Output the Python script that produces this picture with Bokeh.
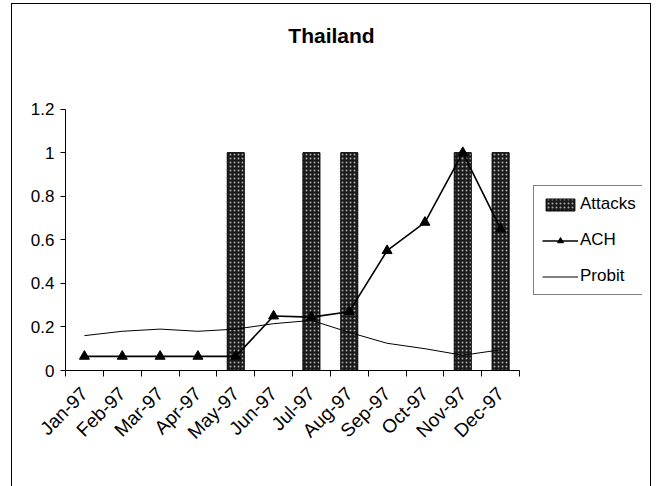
from math import pi

from bokeh.embed import file_html
from bokeh.models import (CustomJSTickFormatter, FixedTicker, Label, Legend, LegendItem,
                          Range1d)
from bokeh.plotting import figure
from bokeh.resources import INLINE

# Monthly series for Thailand, 1997
months = ["Jan-97", "Feb-97", "Mar-97", "Apr-97", "May-97", "Jun-97",
          "Jul-97", "Aug-97", "Sep-97", "Oct-97", "Nov-97", "Dec-97"]
attacks = [0, 0, 0, 0, 1, 0, 1, 1, 0, 0, 1, 1]
ach = [0.065, 0.065, 0.065, 0.065, 0.065, 0.25, 0.245, 0.27, 0.55, 0.68, 1.0, 0.65]
probit = [0.16, 0.18, 0.19, 0.18, 0.19, 0.215, 0.23, 0.175, 0.125, 0.10, 0.07, 0.095]

y_ticks = [0, 0.2, 0.4, 0.6, 0.8, 1.0, 1.2]

FONT = "Liberation Sans"

pos = list(range(len(months)))
bar_x = [i for i, a in zip(pos, attacks) if a > 0]
bar_top = [a for a in attacks if a > 0]

# The drawing area is extended to the right and top so the title and the
# legend can sit inside it; the axes are bounded to the data extent.
x_lo, x_hi = -0.5, len(months) - 0.5
y_lo, y_hi = 0, 1.2
p = figure(width=638, height=482, output_backend="svg", toolbar_location=None,
           x_range=Range1d(x_lo, x_hi + 3.25), y_range=Range1d(y_lo, 1.68),
           min_border_left=53, min_border_right=8, min_border_top=0,
           min_border_bottom=116, margin=(4, 0, 0, 12))
p.styles = {"outline": "1.5px solid black"}
p.background_fill_color = "white"
p.border_fill_color = "white"
p.outline_line_color = None
p.grid.visible = False

# Attack months as patterned bars
bars = p.vbar(x=bar_x, top=bar_top, width=0.45, bottom=0,
              fill_color="#1a1a1a", line_color="black", line_width=1,
              hatch_pattern="dot", hatch_color="#a8a8a8", hatch_scale=4, hatch_weight=1.6)

# Model probabilities drawn over the bars
ach_line = p.line(pos, ach, line_color="black", line_width=1.6)
ach_pts = p.scatter(pos, ach, marker="triangle", size=10, fill_color="black", line_color="black")
probit_line = p.line(pos, probit, line_color="black", line_width=1)

# x axis: labels at month centres, ticks at month boundaries
xa = p.xaxis[0]
xa.bounds = (x_lo, x_hi)
xa.ticker = FixedTicker(ticks=pos, minor_ticks=[i - 0.5 for i in range(len(months) + 1)])
xa.major_label_overrides = {i: m for i, m in zip(pos, months)}
xa.major_label_orientation = pi / 4
xa.major_tick_line_color = None
xa.major_tick_out = 6
xa.major_tick_in = 0
xa.minor_tick_line_color = "black"
xa.minor_tick_out = 6
xa.minor_tick_in = 0
xa.major_label_standoff = 14
xa.axis_line_color = "black"

ya = p.yaxis[0]
ya.bounds = (y_lo, y_hi)
ya.ticker = FixedTicker(ticks=y_ticks)
ya.formatter = CustomJSTickFormatter(code="return tick.toFixed(1).replace(/\\.0$/, '');")
ya.minor_tick_line_color = None
ya.major_tick_out = 5
ya.major_tick_in = 0
ya.major_label_standoff = 6
ya.axis_line_color = "black"

xa.major_label_text_font_size = "19px"
ya.major_label_text_font_size = "17px"
for ax in (xa, ya):
    ax.major_label_text_font = FONT
    ax.major_label_text_color = "black"

# Chart title
p.add_layout(Label(x=266, y=335, x_units="screen", y_units="screen", text="Thailand",
                   text_font=FONT, text_font_size="21px", text_font_style="bold",
                   text_align="center", text_baseline="middle", text_color="black"))

legend = Legend(items=[LegendItem(label="Attacks", renderers=[bars]),
                       LegendItem(label="ACH", renderers=[ach_line, ach_pts]),
                       LegendItem(label="Probit", renderers=[probit_line])],
                location=(468, 75), orientation="vertical",
                label_text_font=FONT, label_text_font_size="17px", label_text_color="black",
                glyph_width=36, glyph_height=15, label_standoff=2,
                spacing=16, padding=8, margin=0,
                border_line_color="black", border_line_width=1,
                background_fill_color="white", background_fill_alpha=1)
p.add_layout(legend)

open("out.html", "w").write(file_html(p, INLINE))
